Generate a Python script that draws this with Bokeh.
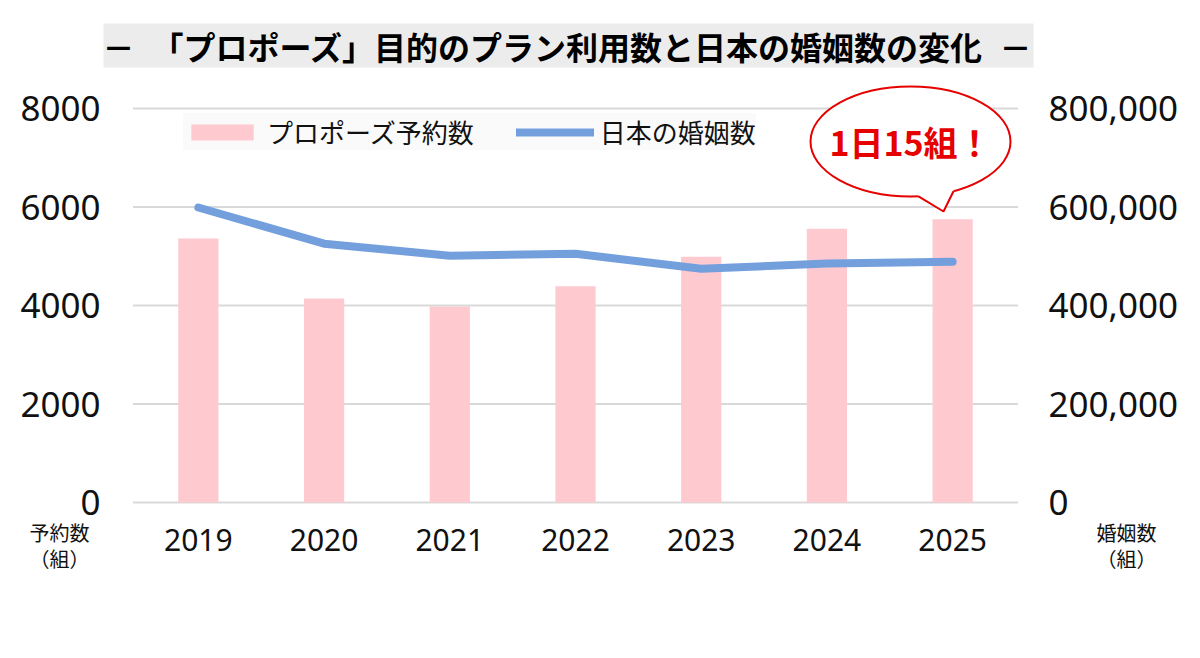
from bokeh.plotting import figure
from bokeh.models import (Range1d, LinearAxis, FixedTicker, NumeralTickFormatter,
                          Legend, LegendItem, Label, BoxAnnotation, ColumnDataSource)
from bokeh.embed import file_html
from bokeh.resources import INLINE

# ---- data ----
years = ["2019", "2020", "2021", "2022", "2023", "2024", "2025"]
proposals = [5360, 4140, 3980, 4390, 4990, 5560, 5750]                 # プロポーズ予約数 (組)
marriages = [599007, 525507, 501138, 504930, 474741, 485063, 489000]   # 日本の婚姻数 (組)
left_ticks = [0, 2000, 4000, 6000, 8000]
right_ticks = [0, 200000, 400000, 600000, 800000]

title_text = "「プロポーズ」目的のプラン利用数と日本の婚姻数の変化"
bar_label = "プロポーズ予約数"
line_label = "日本の婚姻数"
callout_text = "1日15組！"
left_unit = ["予約数", "（組）"]
right_unit = ["婚姻数", "（組）"]

JP = "Noto Sans CJK JP"
NUM = "Noto Sans"

# ---- layout (pixels) ----
W, H = 1200, 658
PL, PR, P0, PT = 135, 1015, 502, 108      # plot area: left, right, y=0 line, top tick line
n = len(years)
xpx = (PR - PL) / n                        # pixels per category
ymax_l, ymax_r = left_ticks[-1], right_ticks[-1]
yu = ymax_l / (P0 - PT)                    # data units per pixel (left axis)
ru = ymax_r / (P0 - PT)                    # data units per pixel (right axis)

x_start = -0.5 - PL / xpx
x_end = n - 0.5 + (W - PR) / xpx
y_start, y_end = -(H - P0) * yu, ymax_l + PT * yu
r_start, r_end = -(H - P0) * ru, ymax_r + PT * ru

def dx(sx):
    return x_start + sx / xpx
def dy(sy):
    return y_end - sy * yu

xpos = list(range(n))
src = ColumnDataSource(dict(x=xpos, year=years, prop=proposals, marr=marriages))

p = figure(width=W, height=H, output_backend="svg", toolbar_location=None,
           x_range=Range1d(x_start, x_end), y_range=Range1d(y_start, y_end),
           min_border=0, min_border_left=0, min_border_right=0,
           min_border_top=0, min_border_bottom=0,
           background_fill_color="white", border_fill_color="white", outline_line_color=None)
p.extra_y_ranges = {"marr": Range1d(r_start, r_end)}
p.grid.visible = False

# axes (fixed at the plot-area edges)
def style_axis(ax, size):
    ax.axis_line_color = None
    ax.major_tick_line_color = None
    ax.minor_tick_line_color = None
    ax.major_tick_out = 0
    ax.major_tick_in = 0
    ax.major_label_text_font = NUM
    ax.major_label_text_font_size = size
    ax.major_label_text_color = "#111111"

xax = p.xaxis[0]
xax.ticker = FixedTicker(ticks=xpos)
xax.major_label_overrides = {i: y for i, y in enumerate(years)}
xax.fixed_location = 0
style_axis(xax, "30px")
xax.major_label_standoff = 26

lax = p.yaxis[0]
lax.ticker = FixedTicker(ticks=left_ticks)
lax.fixed_location = -0.5
style_axis(lax, "35px")
lax.major_label_standoff = 35

rax = LinearAxis(y_range_name="marr", ticker=FixedTicker(ticks=right_ticks),
                 formatter=NumeralTickFormatter(format="0,0"))
rax.fixed_location = n - 0.5
style_axis(rax, "35px")
rax.major_label_standoff = 33
p.add_layout(rax, "right")

# horizontal grid lines at the left-axis ticks
p.segment(x0=[-0.52] * len(left_ticks), x1=[n - 0.48] * len(left_ticks),
          y0=left_ticks, y1=left_ticks, line_color="#d9d9d9", line_width=2)

# glyphs
bars = p.vbar(x="x", top="prop", width=0.32, source=src, fill_color="#ffc9d0", line_color=None)
line = p.line(x="x", y="marr", source=src, y_range_name="marr", line_color="#739fdd",
              line_width=8, line_cap="round", line_join="round")

legend = Legend(items=[LegendItem(label=bar_label, renderers=[bars]),
                       LegendItem(label=line_label, renderers=[line])],
                orientation="horizontal", location=(183, H - 150),
                glyph_width=78, glyph_height=20, label_standoff=6, spacing=42,
                padding=14, margin=0,
                label_text_font=JP, label_text_font_size="26px", label_text_color="#111111",
                background_fill_color="#fafafa", background_fill_alpha=1.0,
                border_line_color=None)
p.add_layout(legend, "center")

# callout balloon
cx, cy = 910, 141
red = "#e60000"
p.ellipse(x=[dx(cx)], y=[dy(cy)], width=200, height=110, width_units="screen",
          height_units="screen", fill_color="white", line_color=red, line_width=2)
p.patch(x=[dx(918), dx(918), dx(943), dx(953), dx(953)],
        y=[dy(191), dy(195.8), dy(211), dy(190.7), dy(186)],
        fill_color="white", line_color=None)
p.line(x=[dx(918), dx(943), dx(953)], y=[dy(195.8), dy(211), dy(190.7)],
       line_color=red, line_width=2)
p.add_layout(Label(x=dx(cx), y=dy(cy), text=callout_text, text_align="center",
                   text_baseline="middle", text_font=JP, text_font_style="bold",
                   text_font_size="34px", text_color=red))

# title band and title
p.add_layout(BoxAnnotation(left=dx(103), right=dx(1033), top=dy(23), bottom=dy(67),
                           fill_color="#ececec", fill_alpha=1.0, line_color=None,
                           level="underlay"))
for txt, sx in [(title_text, 567), ("－", 118), ("－", 1015)]:
    p.add_layout(Label(x=dx(sx), y=dy(45), text=txt,
                       text_align="center", text_baseline="middle", text_font=JP,
                       text_font_style="bold", text_font_size="32px", text_color="#000000"))

# axis unit labels
for lines_, sx in [(left_unit, 59), (right_unit, 1126)]:
    for txt, sy in zip(lines_, [532, 558]):
        p.add_layout(Label(x=dx(sx), y=dy(sy), text=txt,
                           text_align="center", text_baseline="middle", text_font=JP,
                           text_font_size="20px", text_color="#111111"))

open("out.html", "w").write(file_html(p, INLINE))
